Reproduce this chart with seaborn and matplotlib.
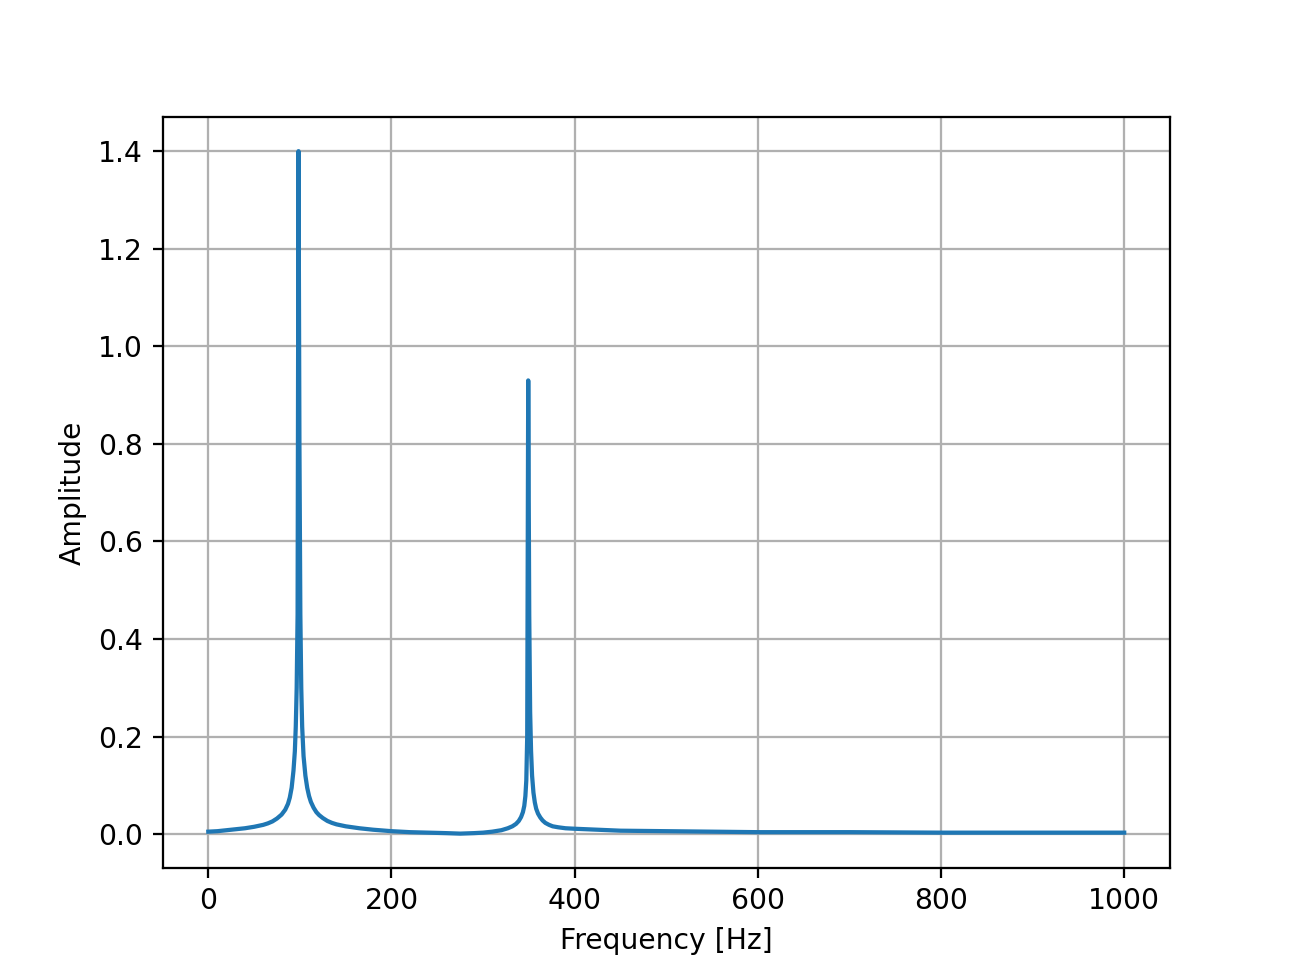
import matplotlib
matplotlib.use("Agg")
import matplotlib.pyplot as plt
import seaborn as sns
import pandas as pd

# spectrum (frequency in Hz, amplitude)
freq = [0, 10, 20, 30, 40, 50, 60, 65, 70, 75, 80, 84, 87, 89, 91, 93, 94.5,
        95.5, 96.5, 97.5, 98.5, 99.5, 100.5, 101.5, 102.5, 104, 106, 108, 110,
        112, 115, 118, 121, 125, 130, 135, 140, 150, 165, 180, 200, 220, 240,
        260, 275, 290, 300, 310, 320, 327, 332, 336, 339, 341.5, 343.5, 345,
        346.2, 347.2, 348.2, 349.3, 350.4, 351.4, 352.4, 353.5, 355, 356.5,
        358, 360, 362.5, 365, 368, 372, 376, 382, 390, 400, 425, 450, 500,
        550, 600, 700, 800, 900, 1000]
amp = [0.005, 0.006, 0.008, 0.010, 0.012, 0.015, 0.019, 0.022, 0.026, 0.032,
       0.040, 0.050, 0.062, 0.075, 0.095, 0.13, 0.17, 0.22, 0.30, 0.45,
       1.40, 0.80, 0.45, 0.30, 0.22, 0.16, 0.12, 0.095, 0.078, 0.066, 0.054,
       0.045, 0.039, 0.033, 0.027, 0.023, 0.020, 0.016, 0.012, 0.009, 0.006,
       0.004, 0.003, 0.002, 0.001, 0.002, 0.003, 0.005, 0.008, 0.012, 0.016,
       0.021, 0.027, 0.035, 0.045, 0.058, 0.078, 0.11, 0.20, 0.93, 0.45,
       0.25, 0.17, 0.12, 0.085, 0.065, 0.052, 0.042, 0.034, 0.028, 0.023,
       0.019, 0.016, 0.014, 0.012, 0.011, 0.009, 0.007, 0.006, 0.005, 0.004,
       0.004, 0.003, 0.003, 0.003]

df = pd.DataFrame({"Frequency [Hz]": freq, "Amplitude": amp})

plt.figure(figsize=(6.4, 4.8), dpi=203.125)
ax = sns.lineplot(df, x="Frequency [Hz]", y="Amplitude", color="C0",
                  linewidth=1.5)
ax.grid(True)
plt.savefig("out.png")
plt.close()
